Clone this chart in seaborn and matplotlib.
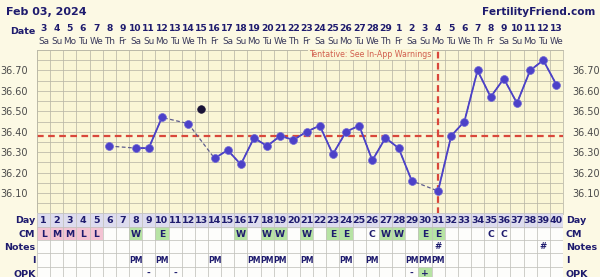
import numpy as np
import pandas as pd
import matplotlib
matplotlib.use("Agg")
import matplotlib.pyplot as plt
import matplotlib.transforms as mtransforms
from matplotlib.patches import Rectangle
import seaborn as sns

# ---------------- data ----------------
days = list(range(1, 41))
temps = [None, None, None, None, None,
         36.33, None, 36.32, 36.32, 36.47, None, 36.44, None, 36.27, 36.31,
         36.24, 36.37, 36.33, 36.38, 36.36, 36.40, 36.43, 36.29, 36.40, 36.43,
         36.26, 36.37, 36.32, 36.16, None, 36.11, 36.38, 36.45, 36.70, 36.57,
         36.66, 36.54, 36.70, 36.75, 36.63]
discarded_days = [13]
discarded_temps = [36.51]
coverline = 36.38
ovulation_day = 31
ytick_vals = [36.10, 36.20, 36.30, 36.40, 36.50, 36.60, 36.70]

date_nums = ['3', '4', '5', '6', '7', '8', '9', '10', '11', '12', '13', '14', '15',
             '16', '17', '18', '19', '20', '21', '22', '23', '24', '25', '26', '27',
             '28', '29', '1', '2', '3', '4', '5', '6', '7', '8', '9', '10', '11',
             '12', '13']
weekday_cycle = ['Sa', 'Su', 'Mo', 'Tu', 'We', 'Th', 'Fr']

cm_days = [1, 2, 3, 4, 5, 8, 10, 16, 18, 19, 21, 23, 24, 26, 27, 28, 30, 31, 35, 36]
cm_vals = ['L', 'M', 'M', 'L', 'L', 'W', 'E', 'W', 'W', 'W', 'W', 'E', 'E', 'C',
           'W', 'W', 'E', 'E', 'C', 'C']
notes_days = [31, 39]
intercourse_days = [8, 10, 14, 17, 18, 19, 21, 24, 26, 29, 30, 31]
opk_days = [9, 11, 29, 30]
opk_vals = ['-', '-', '-', '+']
row_labels = ['Day', 'CM', 'Notes', 'I', 'OPK']

# ---------------- style ----------------
PAGE = '#fcf9e4'
GRIDBG = '#faf6d6'
GRIDLINE = '#b9b7a6'
NAVY = '#1e1b6e'
DOT = '#4c41c8'
RED = '#d9473b'
PINK = '#f3c3d3'
GREEN = '#b7e3a4'
LAV = '#dddcee'

sns.set_style("white")
plt.rcParams['font.family'] = ['DejaVu Sans']

W, H = 600, 277
fig = plt.figure(figsize=(6, 2.77), dpi=100, facecolor=PAGE)

left_px, right_px = 37, 563
top_px, bot_px = 50, 213.5
row_h = 13.3

ax = fig.add_axes([left_px / W, 1 - bot_px / H, (right_px - left_px) / W, (bot_px - top_px) / H])
ax.set_facecolor(GRIDBG)
ax.set_xlim(0.5, 40.5)
ax.set_ylim(36.0, 36.8)

# grid
ax.vlines(np.arange(0.5, 41, 1), 36.0, 36.8, color=GRIDLINE, lw=0.55, zorder=0)
ax.hlines(np.arange(36.0, 36.801, 0.05), 0.5, 40.5, color=GRIDLINE, lw=0.55, zorder=0)
for s in ax.spines.values():
    s.set_color(GRIDLINE)
    s.set_linewidth(0.55)

# data frame
df = pd.DataFrame({'day': days, 'temp': temps})
seg = []
sid = 0
for t in temps:
    if t is None:
        sid += 1
        seg.append(np.nan)
    else:
        seg.append(sid)
df['seg'] = seg
dv = df.dropna(subset=['temp']).copy()
dv['temp'] = dv['temp'].astype(float)

# dashed connectors through gaps
sns.lineplot(data=dv, x='day', y='temp', estimator=None, sort=True, ax=ax,
             color='#5c5a8c', lw=0.9, linestyle=(0, (3, 2)), zorder=2)
# solid segments
sns.lineplot(data=dv, x='day', y='temp', units='seg', estimator=None, sort=True, ax=ax,
             color=DOT, lw=1.3, zorder=3)
sns.scatterplot(data=dv, x='day', y='temp', s=32, color=DOT, edgecolor='#6c64d6',
                linewidth=0.5, ax=ax, zorder=5)
dd = pd.DataFrame({'day': discarded_days, 'temp': discarded_temps})
sns.scatterplot(data=dd, x='day', y='temp', s=30, color='#1a1438', edgecolor='#1a1438',
                linewidth=0.5, ax=ax, zorder=5)

# coverline and ovulation line
ax.axhline(coverline, color=RED, lw=1.6, linestyle=(0, (3, 2)), zorder=1)
ax.axvline(ovulation_day, color=RED, lw=1.6, linestyle=(0, (3, 2)), zorder=1)
ax.text(30.46, 36.777, 'Tentative: See In-App Warnings', ha='right', va='center',
        fontsize=5.7, color='#d2604f', zorder=4,
        bbox=dict(fc=GRIDBG, ec='none', pad=0.5))

ax.set_xlabel('')
ax.set_ylabel('')
ax.set_xticks([])
ax.set_yticks(ytick_vals)
ax.set_yticklabels([f'{v:.2f}' for v in ytick_vals])
ax.tick_params(axis='y', left=False, right=False, labelleft=True, labelright=True,
               labelsize=7, labelcolor='#4a4a4a', pad=3)

# ---------------- header ----------------
trans_top = mtransforms.blended_transform_factory(ax.transData, fig.transFigure)
fig.text(6 / W, 1 - 12 / H, 'Feb 03, 2024', ha='left', va='center', fontsize=8,
         fontweight='bold', color=NAVY)
fig.text(595 / W, 1 - 12 / H, 'FertilityFriend.com', ha='right', va='center', fontsize=7.6,
         fontweight='bold', color=NAVY)
fig.text(35 / W, 1 - 31 / H, 'Date', ha='right', va='center', fontsize=6.8,
         fontweight='bold', color=NAVY)
for i, d in enumerate(days):
    ax.text(d, 1 - 28.5 / H, date_nums[i], transform=trans_top, ha='center', va='center',
            fontsize=6.6, fontweight='bold', color=NAVY)
    ax.text(d, 1 - 42 / H, weekday_cycle[i % 7], transform=trans_top, ha='center',
            va='center', fontsize=6.4, color='#3a3a5c')

# ---------------- table ----------------
tab = fig.add_axes([left_px / W, 1 - (bot_px + 5 * row_h) / H, (right_px - left_px) / W,
                    5 * row_h / H])
tab.set_xlim(0.5, 40.5)
tab.set_ylim(5, 0)
tab.set_facecolor('#fdfdfb')
tab.axhspan(0, 1, color=LAV, zorder=0)
for d, v in zip(cm_days, cm_vals):
    c = PINK if v in ('L', 'M') else (GREEN if v in ('W', 'E') else None)
    if c:
        tab.add_patch(Rectangle((d - 0.5, 1), 1, 1, fc=c, ec='none', zorder=0))
    tab.text(d, 1.55, v, ha='center', va='center', fontsize=6.6, fontweight='bold', color=NAVY)
for d, v in zip(opk_days, opk_vals):
    if v == '+':
        tab.add_patch(Rectangle((d - 0.5, 4), 1, 1, fc=GREEN, ec='none', zorder=0))
    tab.text(d, 4.5, v, ha='center', va='center', fontsize=6.6, fontweight='bold', color=NAVY)
for d in days:
    tab.text(d, 0.55, str(d), ha='center', va='center', fontsize=6.8, fontweight='bold',
             color=NAVY)
for d in notes_days:
    tab.text(d, 2.5, '#', ha='center', va='center', fontsize=6.2, fontweight='bold', color=NAVY)
for d in intercourse_days:
    tab.text(d, 3.5, 'PM', ha='center', va='center', fontsize=5.5, fontweight='bold', color=NAVY)

tab.vlines(np.arange(0.5, 41, 1), 0, 5, color='#c2c1bc', lw=0.55, zorder=1)
tab.hlines(np.arange(0, 6, 1), 0.5, 40.5, color='#c2c1bc', lw=0.55, zorder=1)
tab.set_xticks([])
tab.set_yticks([])
for s in tab.spines.values():
    s.set_visible(False)
for r, lab in enumerate(row_labels):
    tab.text(0.38, r + 0.55, lab, ha='right', va='center', fontsize=6.8, fontweight='bold',
             color=NAVY, clip_on=False)
    tab.text(40.72, r + 0.55, lab, ha='left', va='center', fontsize=6.8, fontweight='bold',
             color=NAVY, clip_on=False)

fig.savefig('out.png', dpi=100, facecolor=PAGE)
